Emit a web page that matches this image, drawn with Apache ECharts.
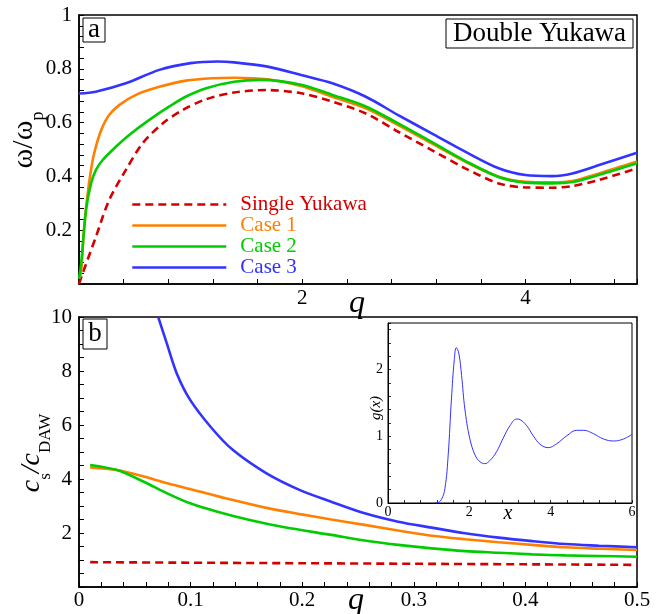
<!DOCTYPE html>
<html><head><meta charset="utf-8">
<script src="https://cdn.jsdelivr.net/npm/echarts@6/dist/echarts.min.js"></script>
<style>html,body{margin:0;padding:0;background:#fff}#c{width:662px;height:614px}</style>
</head><body><div id="c"></div>
<script>
// ---------- Panel a : dispersion omega/omega_p vs q ----------
const aRedQ = [0, 0.033, 0.152, 0.27, 0.42, 0.57, 0.75, 0.93, 1.12, 1.39, 1.69, 1.99, 2.27, 2.57, 2.86, 3.16, 3.46, 3.76, 4.0, 4.24, 4.42, 4.66, 5.0];
const aRedW = [0.0, 0.04, 0.176, 0.312, 0.424, 0.523, 0.597, 0.647, 0.684, 0.712, 0.721, 0.709, 0.678, 0.634, 0.566, 0.498, 0.43, 0.374, 0.359, 0.358, 0.364, 0.387, 0.43];
const aOrgQ = [0, 0.018, 0.047, 0.078, 0.123, 0.168, 0.212, 0.27, 0.36, 0.51, 0.72, 0.96, 1.2, 1.39, 1.69, 1.99, 2.27, 2.57, 2.86, 3.16, 3.46, 3.76, 4.0, 4.24, 4.42, 4.66, 5.0];
const aOrgW = [0.02, 0.04, 0.213, 0.337, 0.461, 0.535, 0.585, 0.628, 0.665, 0.703, 0.733, 0.756, 0.765, 0.767, 0.761, 0.736, 0.696, 0.653, 0.591, 0.523, 0.455, 0.399, 0.38, 0.378, 0.383, 0.411, 0.455];
const aGrnQ = [0, 0.018, 0.063, 0.108, 0.152, 0.212, 0.33, 0.45, 0.63, 0.81, 0.96, 1.14, 1.39, 1.63, 1.99, 2.27, 2.57, 2.86, 3.16, 3.46, 3.76, 4.0, 4.24, 4.42, 4.66, 5.0];
const aGrnW = [0.02, 0.07, 0.275, 0.374, 0.424, 0.461, 0.51, 0.554, 0.61, 0.66, 0.697, 0.728, 0.752, 0.759, 0.741, 0.703, 0.66, 0.597, 0.528, 0.458, 0.398, 0.377, 0.374, 0.379, 0.406, 0.449];
const aBluQ = [0, 0.15, 0.42, 0.72, 1.0, 1.24, 1.39, 1.69, 1.99, 2.27, 2.57, 2.86, 3.16, 3.46, 3.76, 4.0, 4.24, 4.42, 4.66, 5.0];
const aBluW = [0.708, 0.715, 0.746, 0.796, 0.821, 0.827, 0.824, 0.808, 0.777, 0.746, 0.696, 0.628, 0.56, 0.492, 0.43, 0.405, 0.401, 0.411, 0.442, 0.488];

// ---------- Panel b : c_s / c_DAW vs q ----------
const bRedQ = [0.01, 0.1, 0.2, 0.3, 0.4, 0.5];
const bRedV = [0.92, 0.90, 0.88, 0.86, 0.84, 0.82];
const bOrgQ = [0.01, 0.034, 0.058, 0.079, 0.109, 0.138, 0.168, 0.198, 0.226, 0.256, 0.286, 0.316, 0.346, 0.376, 0.406, 0.436, 0.466, 0.5];
const bOrgV = [4.43, 4.33, 4.09, 3.84, 3.53, 3.22, 2.93, 2.70, 2.50, 2.30, 2.09, 1.90, 1.77, 1.66, 1.56, 1.47, 1.42, 1.37];
const bGrnQ = [0.01, 0.034, 0.058, 0.079, 0.0996, 0.124, 0.153, 0.183, 0.226, 0.256, 0.286, 0.316, 0.346, 0.376, 0.406, 0.436, 0.466, 0.5];
const bGrnV = [4.52, 4.33, 3.90, 3.47, 3.10, 2.79, 2.48, 2.22, 1.93, 1.72, 1.56, 1.43, 1.33, 1.27, 1.21, 1.17, 1.15, 1.12];
const bBluQ = [0.071, 0.0786, 0.0876, 0.0996, 0.119, 0.138, 0.168, 0.198, 0.226, 0.256, 0.286, 0.316, 0.346, 0.376, 0.406, 0.436, 0.466, 0.5];
const bBluV = [10.0, 9.03, 7.91, 6.93, 5.88, 5.07, 4.21, 3.59, 3.16, 2.73, 2.42, 2.2, 1.99, 1.83, 1.70, 1.59, 1.53, 1.47];

// ---------- Inset : g(x) ----------
const gX = [1.15, 1.19, 1.31, 1.40, 1.48, 1.56, 1.63, 1.68, 1.74, 1.81, 1.89, 2.01, 2.14, 2.26, 2.38, 2.51, 2.67, 2.83, 3.0, 3.16, 3.25, 3.41, 3.57, 3.74, 3.94, 4.15, 4.40, 4.64, 4.81, 5.05, 5.30, 5.55, 5.79, 6.0];
const gY = [0, 0, 0.05, 0.22, 0.72, 1.56, 2.15, 2.33, 2.25, 1.91, 1.41, 0.97, 0.72, 0.62, 0.59, 0.64, 0.77, 0.97, 1.16, 1.26, 1.25, 1.16, 1.01, 0.88, 0.83, 0.89, 1.01, 1.09, 1.09, 1.04, 0.96, 0.93, 0.96, 1.03];

const seriesNames = ['Single Yukawa', 'Case 1', 'Case 2', 'Case 3'];
const colors = ['#d40000', '#ff8000', '#00cc00', '#3333ff'];

const zip = (a, b) => a.map((v, i) => [v, b[i]]);
const FONT = 'Liberation Serif';
const near = (v, t) => Math.abs(v - t) < 1e-6;

function axisCommon(extra) {
  return Object.assign({
    type: 'value',
    axisLine: { show: true, onZero: false, lineStyle: { color: '#000', width: 1.5 } },
    axisTick: { show: true, inside: true, length: 5, lineStyle: { color: '#000', width: 1 } },
    splitLine: { show: false },
    minorTick: { show: false }
  }, extra);
}

const chart = echarts.init(document.getElementById('c'), null, { renderer: 'canvas' });

const lineSeries = (name, idx, data, color, dashed, width) => ({
  name: name, type: 'line', xAxisIndex: idx, yAxisIndex: idx,
  data: data, showSymbol: false, symbol: 'none', smooth: 0.3, clip: true,
  lineStyle: { color: color, width: width || 2.6, type: dashed ? [8, 5] : 'solid' },
  itemStyle: { color: color }, silent: true, animation: false
});

chart.setOption({
  backgroundColor: '#fff',
  animation: false,
  grid: [
    { left: 79, top: 15, width: 558, height: 269, show: true, borderColor: '#000', borderWidth: 1.5, backgroundColor: 'transparent' },
    { left: 79, top: 317, width: 558, height: 270, show: true, borderColor: '#000', borderWidth: 1.5, backgroundColor: 'transparent' },
    { left: 388, top: 323, width: 244, height: 180, show: true, borderColor: '#000', borderWidth: 1, backgroundColor: '#fff', z: 5 }
  ],
  xAxis: [
    axisCommon({ gridIndex: 0, min: 0, max: 5, interval: 0.4,
      axisLabel: { color: '#000', fontFamily: FONT, fontSize: 21, margin: 4,
        formatter: v => (near(v, 2) ? '2' : near(v, 4) ? '4' : '') } }),
    axisCommon({ gridIndex: 1, min: 0, max: 0.5, interval: 0.02,
      axisLabel: { color: '#000', fontFamily: FONT, fontSize: 21, margin: 3,
        formatter: v => { const k = Math.round(v * 10); return near(v * 10, k) ? (k === 0 ? '0' : (k === 10 ? '1' : '0.' + k)) : ''; } } }),
    axisCommon({ gridIndex: 2, min: 0, max: 6, interval: 0.4, z: 6,
      axisLine: { show: true, onZero: false, lineStyle: { color: '#000', width: 1 } },
      axisTick: { show: true, inside: true, length: 3, lineStyle: { color: '#000', width: 0.8 } },
      axisLabel: { color: '#000', fontFamily: FONT, fontSize: 14, margin: 2,
        formatter: v => { const k = Math.round(v / 2); return near(v / 2, k) ? String(2 * k) : ''; } } })
  ],
  yAxis: [
    axisCommon({ gridIndex: 0, min: 0, max: 1, interval: 0.04,
      axisLabel: { color: '#000', fontFamily: FONT, fontSize: 21, margin: 7,
        formatter: v => { const k = Math.round(v * 5); if (!near(v * 5, k) || k === 0) return ''; return k === 5 ? '1' : '0.' + (2 * k); } } }),
    axisCommon({ gridIndex: 1, min: 0, max: 10, interval: 0.5,
      axisLabel: { color: '#000', fontFamily: FONT, fontSize: 21, margin: 7,
        formatter: v => { const k = Math.round(v / 2); if (!near(v / 2, k) || k === 0) return ''; return String(2 * k); } } }),
    axisCommon({ gridIndex: 2, min: 0, max: 2.7, interval: 0.2, z: 6,
      axisLine: { show: true, onZero: false, lineStyle: { color: '#000', width: 1 } },
      axisTick: { show: true, inside: true, length: 3, lineStyle: { color: '#000', width: 0.8 } },
      axisLabel: { color: '#000', fontFamily: FONT, fontSize: 14, margin: 5,
        formatter: v => { const k = Math.round(v); return (near(v, k) && k <= 2) ? String(k) : ''; } } })
  ],
  legend: {
    left: 131, top: 194, orient: 'vertical', itemWidth: 94, itemHeight: 14, itemGap: 0, padding: 0,
    selectedMode: false,
    itemStyle: { opacity: 0 },
    lineStyle: { width: 2.6 },
    textStyle: { fontFamily: FONT, fontSize: 21, lineHeight: 21, padding: [0, 0, 0, 9] },
    data: seriesNames.map((n, i) => ({ name: n, textStyle: { color: colors[i] } }))
  },
  series: [
    lineSeries(seriesNames[0], 0, zip(aRedQ, aRedW), colors[0], true),
    lineSeries(seriesNames[1], 0, zip(aOrgQ, aOrgW), colors[1]),
    lineSeries(seriesNames[2], 0, zip(aGrnQ, aGrnW), colors[2]),
    lineSeries(seriesNames[3], 0, zip(aBluQ, aBluW), colors[3]),
    lineSeries(seriesNames[0], 1, zip(bRedQ, bRedV), colors[0], true),
    lineSeries(seriesNames[1], 1, zip(bOrgQ, bOrgV), colors[1]),
    lineSeries(seriesNames[2], 1, zip(bGrnQ, bGrnV), colors[2]),
    lineSeries(seriesNames[3], 1, zip(bBluQ, bBluV), colors[3]),
    Object.assign(lineSeries('g(x)', 2, zip(gX, gY), '#3333ff', false, 1), { z: 7, smooth: 0.4 })
  ],
  graphic: [
    { type: 'rect', shape: { x: 83, y: 18, width: 22, height: 24 }, style: { fill: '#fff', stroke: '#000', lineWidth: 1 }, z: 10 },
    { type: 'text', x: 94, y: 30, style: { text: 'a', font: '27px "Liberation Serif"', fill: '#000', align: 'center', verticalAlign: 'middle' }, z: 11 },
    { type: 'rect', shape: { x: 446, y: 19, width: 187, height: 29 }, style: { fill: '#fff', stroke: '#000', lineWidth: 1 }, z: 10 },
    { type: 'text', x: 539.5, y: 34, style: { text: 'Double Yukawa', font: '27px "Liberation Serif"', fill: '#000', align: 'center', verticalAlign: 'middle' }, z: 11 },
    { type: 'rect', shape: { x: 83, y: 319, width: 24, height: 30 }, style: { fill: '#fff', stroke: '#000', lineWidth: 1 }, z: 10 },
    { type: 'text', x: 95, y: 334, style: { text: 'b', font: '27px "Liberation Serif"', fill: '#000', align: 'center', verticalAlign: 'middle' }, z: 11 },
    { type: 'text', x: 357, y: 304, style: { text: 'q', font: 'italic 32px "Liberation Serif"', fill: '#000', align: 'center', verticalAlign: 'middle' }, z: 11 },
    { type: 'text', x: 356, y: 601, style: { text: 'q', font: 'italic 32px "Liberation Serif"', fill: '#000', align: 'center', verticalAlign: 'middle' }, z: 11 },
    { type: 'text', x: 24, y: 140, rotation: Math.PI / 2, style: {
        text: '{m|ω/ω}{s|p}', align: 'center', verticalAlign: 'middle', fill: '#000',
        rich: { m: { fontFamily: FONT, fontSize: 30, fill: '#000', verticalAlign: 'bottom', lineHeight: 30 },
                s: { fontFamily: FONT, fontSize: 18, fill: '#000', verticalAlign: 'bottom', lineHeight: 18, padding: [0, 0, -8, 0] } } }, z: 11 },
    { type: 'text', x: 31, y: 453, rotation: Math.PI / 2, style: {
        text: '{m|c}{s|s}{m|/c}{s|DAW}', align: 'center', verticalAlign: 'middle', fill: '#000',
        rich: { m: { fontFamily: FONT, fontStyle: 'italic', fontSize: 28, fill: '#000', verticalAlign: 'bottom', lineHeight: 30 },
                s: { fontFamily: FONT, fontSize: 17, fill: '#000', verticalAlign: 'bottom', lineHeight: 18, padding: [0, 0, -8, 0] } } }, z: 11 },
    { type: 'text', x: 508, y: 514, style: { text: 'x', font: 'italic 20px "Liberation Serif"', fill: '#000', align: 'center', verticalAlign: 'middle' }, z: 11 },
    { type: 'text', x: 376, y: 408, rotation: Math.PI / 2, style: { text: 'g(x)', font: 'italic 15px "Liberation Serif"', fill: '#000', align: 'center', verticalAlign: 'middle' }, z: 11 }
  ]
});
</script>
</body></html>
